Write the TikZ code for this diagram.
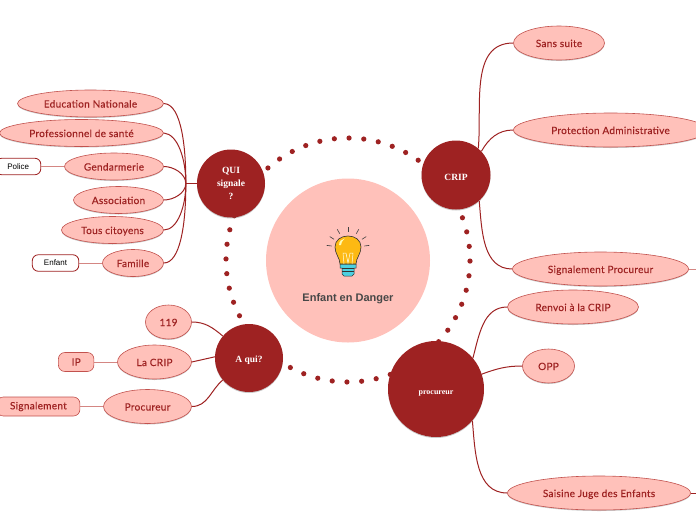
\documentclass[tikz,border=0pt]{standalone}
\usepackage{fontspec}
\setmainfont{Lato}
\newfontfamily\leaffont[FakeBold=0.3,LetterSpace=3]{Lato}
\newfontfamily\hubfont{Liberation Serif}
\newfontfamily\titlefont{Liberation Sans}
\usepackage{xcolor}
\usetikzlibrary{positioning,shapes.geometric,shadows}
\definecolor{darkred}{HTML}{9E2222}
\definecolor{softred}{HTML}{FFC1BA}
\definecolor{edgered}{HTML}{C2524E}
\definecolor{bulbyellow}{HTML}{FDB913}
\definecolor{bulbteal}{HTML}{4DD0E1}
\tikzset{
  softshadow/.style={drop shadow={shadow xshift=0pt, shadow yshift=-1pt, opacity=0.35, fill=black!60}},
  hub/.style={circle, fill=darkred, text=white, inner sep=0pt, minimum size=68pt, align=center, softshadow,
    font=\hubfont\fontsize{9.5}{13}\selectfont\bfseries, execute at begin node={\rule{0pt}{11pt}}},
  leaf/.style={ellipse, draw=edgered, line width=0.6pt, fill=softred, text=darkred, inner sep=0pt, minimum height=27pt,
    text height=9.5pt, text depth=1.5pt, softshadow, font=\leaffont\fontsize{10}{12}\selectfont},
  bigleaf/.style={leaf, minimum height=34pt},
  tag/.style={draw=darkred, line width=0.8pt, fill=white, rounded corners=6pt, inner sep=0pt, minimum height=16.5pt,
    font=\titlefont\fontsize{8}{10}\selectfont},
  softtag/.style={draw=edgered, line width=0.6pt, fill=softred, text=darkred, rounded corners=6.5pt, inner sep=0pt,
    minimum height=19pt, font=\leaffont\fontsize{10}{12}\selectfont},
  branch/.style={draw=darkred, line width=1pt},
  twig/.style={draw=edgered!70, line width=0.8pt},
  ringdot/.style={fill=darkred},
}
\begin{document}
\begin{tikzpicture}[x=1pt,y=1pt]
  \useasboundingbox (0,0) rectangle (696,-520);

  % ring of dots
  \foreach \a in {0,1,...,51}
    \fill[ringdot] ({348+122*cos(\a/52*360-0.5)},{-260+122*sin(\a/52*360-0.5)}) circle (2.6pt);

  \node[circle, fill=softred, inner sep=0pt, minimum size=164pt] (danger) at (348,-260.5) {};
  \node[text=black!72, font=\titlefont\fontsize{11}{13}\selectfont\bfseries, yshift=-38pt] (dangertitle) at (danger) {Enfant en Danger};

  % bulb
  \begin{scope}[shift={(348,-250)}]
    \foreach \r in {90,60,120,32,148,7,173}
      \draw[black!75, line width=0.6pt] (\r:16.5) ++(0,2) -- ++(\r:5);
    \fill[bulbteal, draw=black!80, line width=0.5pt] (-8,-14) -- (8,-14) -- (8,-18) -- (6,-18) -- (6,-24) -- (4,-26) -- (-4,-26) -- (-6,-24) -- (-6,-18) -- (-8,-18) -- cycle;
    \draw[black!80, line width=0.5pt] (-6,-18) -- (6,-18) (-6,-21.5) -- (6,-21.5);
    \filldraw[fill=bulbyellow, draw=black!80, line width=0.6pt] (-8,-14) .. controls (-8,-8) and (-13,-4) .. (-13,3) .. controls (-13,10) and (-7,14) .. (0,14) .. controls (7,14) and (13,10) .. (13,3) .. controls (13,-4) and (8,-8) .. (8,-14) -- cycle;
    \draw[white!90!yellow, line width=0.5pt] (-4,-14) -- (-5,-3) -- (-2,-3) -- (0,-13) -- (2,-3) -- (5,-3) -- (4,-14);
    \fill[white!70!yellow] (-9,5) .. controls (-9,9) and (-6,11) .. (-3,11.5) .. controls (-6,9) and (-7,7) .. (-7,5) -- cycle;
  \end{scope}

  \node[hub, execute at begin node={}] (qui) at (231,-183.5) {\raisebox{-2pt}{\begin{tabular}{@{}c@{}}QUI\\signale\\?\end{tabular}}};
  \node[hub] (aqui) at (249,-358) {A qui?};
  \node[hub, minimum size=69pt] (crip) at (456,-175) {CRIP};
  \node[hub, minimum size=96pt, font=\hubfont\fontsize{8}{10}\selectfont\bfseries, execute at begin node={\rule{0pt}{13pt}}] (proc) at (436,-389) {procureur};

  \node[leaf, left=33pt of qui, yshift=80pt, minimum width=146pt] (edu) {Education Nationale};
  \node[leaf, left=33pt of qui, yshift=50.5pt, minimum width=164pt] (prof) {Professionnel de santé};
  \node[leaf, left=33pt of qui, yshift=17pt, minimum width=99pt] (gend) {Gendarmerie};
  \node[leaf, left=33pt of qui, yshift=-16.5pt, minimum width=90pt] (asso) {Association};
  \node[leaf, left=33pt of qui, yshift=-46.5pt, minimum width=102pt] (tous) {Tous citoyens};
  \node[leaf, left=33pt of qui, yshift=-79.5pt, minimum width=61pt] (fam) {Famille};
  \node[tag, left=23pt of gend, minimum width=45pt] (police) {Police};
  \node[tag, left=23pt of fam, minimum width=46.5pt] (enfant) {Enfant};

  \node[bigleaf, left=23pt of aqui, yshift=36pt, minimum width=46pt] (num) {119};
  \node[bigleaf, left=23pt of aqui, yshift=-4pt, minimum width=74pt] (lacrip) {La CRIP};
  \node[bigleaf, left=23pt of aqui, yshift=-48.5pt, minimum width=88pt] (procu) {Procureur};
  \node[softtag, left=23pt of lacrip, minimum width=35.5pt] (ip) {IP};
  \node[softtag, left=23pt of procu, minimum width=83pt] (signal) {Signalement};

  \node[bigleaf, right=22.5pt of crip, yshift=132pt, minimum width=91pt] (sans) {Sans suite};
  \node[bigleaf, right=22.5pt of crip, yshift=45pt, minimum width=194pt] (admin) {Protection Administrative};
  \node[bigleaf, right=21.5pt of crip, yshift=-94pt, minimum width=176pt] (sigproc) {Signalement Procureur};

  \node[bigleaf, right=23pt of proc, yshift=82pt, minimum width=131pt] (renvoi) {Renvoi à la CRIP};
  \node[bigleaf, right=38pt of proc, yshift=23pt, minimum width=52pt] (opp) {OPP};
  \node[bigleaf, right=23pt of proc, yshift=-104pt, minimum width=183pt] (saisine) {Saisine Juge des Enfants};

  \coordinate[left=11pt of qui] (quijoint);
  \coordinate[right=8pt of sigproc] (sigstub);
  \coordinate[right=6pt of saisine] (saistub);

  \draw[branch, line width=1.6pt] (qui.west) -- (quijoint);
  \draw[branch] (edu.east) .. controls (182,-104) and (186,-150) .. (quijoint);
  \draw[branch] (prof.east) .. controls (178,-134) and (186,-160) .. (quijoint);
  \draw[branch] (gend.east) to[out=0,in=90,looseness=0.9] (quijoint);
  \draw[branch] (asso.east) to[out=0,in=-90,looseness=0.9] (quijoint);
  \draw[branch] (tous.east) .. controls (178,-230) and (186,-205) .. (quijoint);
  \draw[branch] (fam.east) .. controls (180,-263) and (186,-225) .. (quijoint);
  \draw[twig] (gend) -- (police);
  \draw[twig] (fam) -- (enfant);

  \draw[branch] (num.east) to[out=0,in=140] (aqui.140);
  \draw[branch] (lacrip.east) -- (aqui.178);
  \draw[branch] (procu.east) to[out=0,in=-140] (aqui.220);
  \draw[twig] (lacrip) -- (ip);
  \draw[twig] (procu) -- (signal);

  \draw[branch] (sans.west) to[out=180,in=85] (crip.50);
  \draw[branch] (admin.west) to[out=180,in=60] (crip.43);
  \draw[branch] (sigproc.west) to[out=180,in=-85] (crip.-48);
  \draw[twig] (sigproc.east) -- (sigstub);

  \draw[branch] (renvoi.west) to[out=180,in=75] (proc.40);
  \draw[branch] (opp.west) to[out=180,in=20] (proc.18);
  \draw[branch] (saisine.west) to[out=180,in=-85] (proc.-41);
  \draw[branch] (saisine.east) -- (saistub);
\end{tikzpicture}
\end{document}
